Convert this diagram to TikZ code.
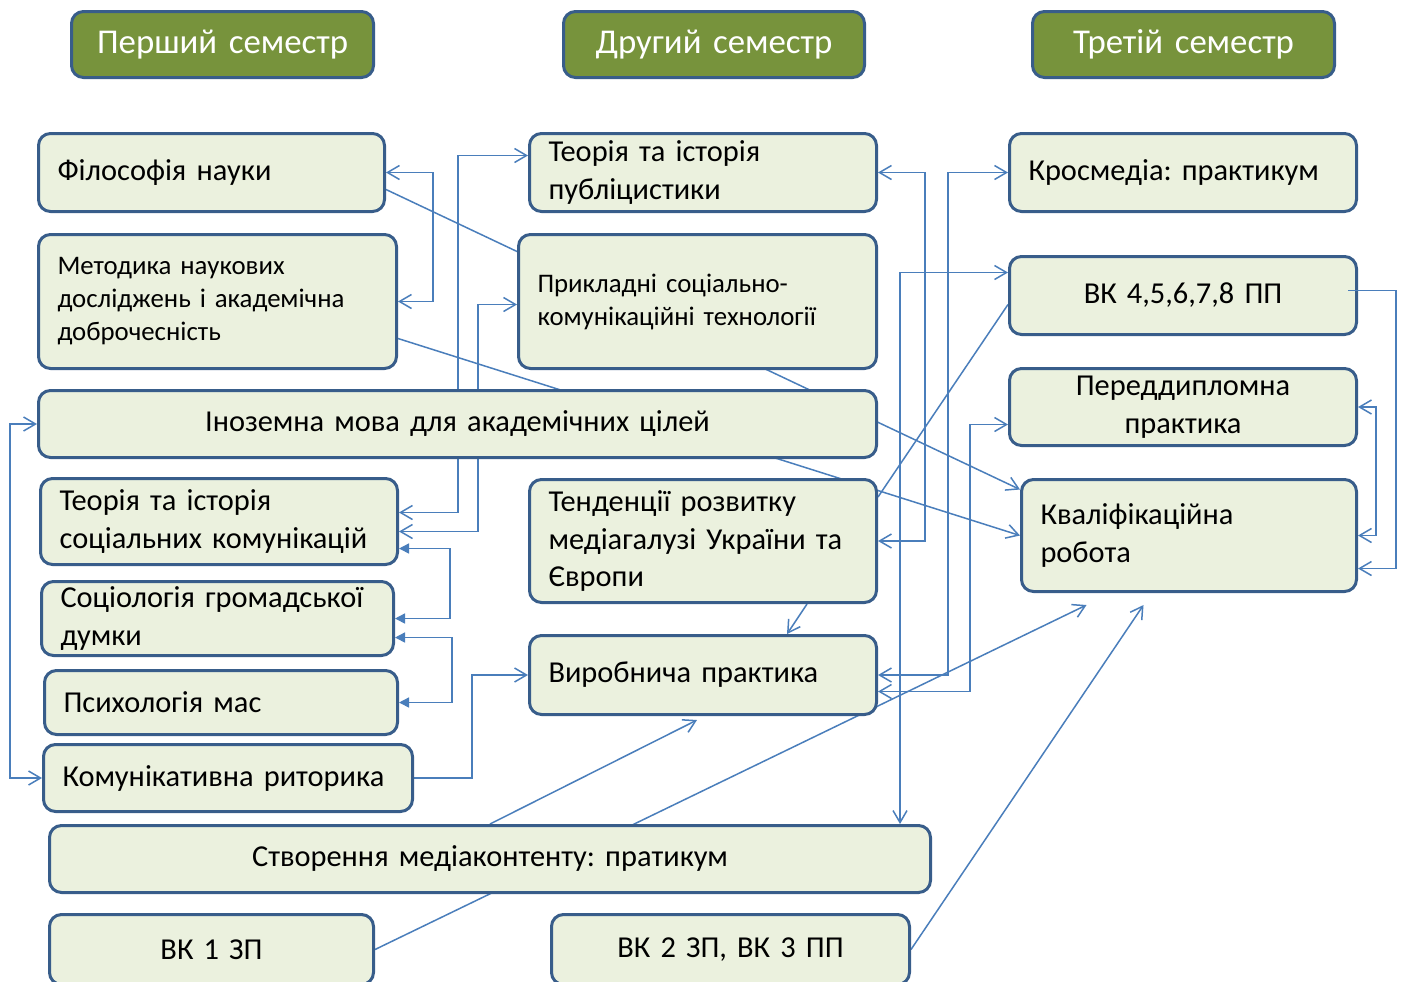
\documentclass[tikz,border=0pt]{standalone}
\usepackage{fontspec}
\setmainfont{Carlito}
\frenchspacing
\usetikzlibrary{arrows.meta,positioning,backgrounds}
\definecolor{boxfill}{HTML}{EBF1DE}
\definecolor{boxline}{HTML}{385D8A}
\definecolor{headfill}{HTML}{77933C}
\definecolor{linkblue}{HTML}{4A7EBB}

\begin{document}
\begin{tikzpicture}[x=0.5pt, y=-0.5pt, >={Straight Barb[length=6pt,width=7pt]},
    box/.style={draw=boxline, line width=1.5pt, fill=boxfill, rounded corners=6pt, anchor=north west,
      inner xsep=9.5pt, inner ysep=0pt, align=left, font=\fontsize{15.2}{18.75}\selectfont},
    small/.style={font=\fontsize{13.4}{16.5}\selectfont},
    head/.style={box, fill=headfill, text=white, align=center, font=\fontsize{17.4}{20}\selectfont},
    link/.style={draw=linkblue, line width=0.75pt},
    flink/.style={link, {Triangle[length=5pt,width=5pt]}-{Triangle[length=5pt,width=5pt]}}]
    \useasboundingbox (0,0) rectangle (1402,981);

    % semesters
    \node[head, text width=132pt, minimum height=33pt] (sem1) at (70,10) {Перший семестр};
    \node[head, text width=131.5pt, minimum height=33pt] (sem2) at (562,10) {Другий семестр};
    \node[head, text width=132pt, minimum height=33pt] (sem3) at (1031,10) {Третій семестр};

    % first column
    \node[box, text width=154pt, minimum height=39pt] (fil) at (37,132) {Філософія науки};
    \node[box, small, text width=160pt, minimum height=67pt] (metod) at (37,233) {Методика наукових\\досліджень і академічна\\доброчесність};
    \node[box, align=center, text width=400pt, minimum height=33.5pt] (inozem) at (37,389) {Іноземна мова для академічних цілей};
    \node[box, text width=159.5pt, minimum height=43pt] (tisk) at (39,477) {Теорія та історія\\соціальних комунікацій};
    \node[box, text width=157pt, minimum height=37pt] (sociol) at (40,580) {Соціологія громадської\\думки};
    \node[box, text width=157.5pt, minimum height=32pt] (psych) at (43,669) {Психологія мас};
    \node[box, text width=165.5pt, minimum height=33.5pt] (ritor) at (42,743) {Комунікативна риторика};
    \node[box, align=center, text width=421.5pt, minimum height=33.5pt] (media) at (48,824) {Створення медіаконтенту: пратикум};
    \node[box, align=center, text width=143pt, minimum height=35pt] (vk1) at (48,913) {ВК 1 ЗП};

    % second column
    \node[box, text width=154.5pt, minimum height=39pt] (tip) at (528,132) {Теорія та історія\\публіцистики};
    \node[box, small, text width=160pt, minimum height=67pt] (pskt) at (517,233) {Прикладні соціально-\\комунікаційні технології};
    \node[box, text width=154.5pt, minimum height=61.5pt] (tend) at (528,478) {Тенденції розвитку\\медіагалузі України та\\Європи};
    \node[box, text width=154.5pt, minimum height=39.5pt] (vyrob) at (528,634) {Виробнича практика};
    \node[box, align=center, text width=160pt, minimum height=35pt] (vk2) at (550,913) {ВК 2 ЗП, ВК 3 ПП};

    % third column
    \node[box, text width=154.5pt, minimum height=39pt] (kros) at (1008,132) {Кросмедіа: практикум};
    \node[box, align=center, text width=154.5pt, minimum height=39pt] (vk4) at (1008,255) {ВК 4,5,6,7,8 ПП};
    \node[box, align=center, text width=154.5pt, minimum height=38.5pt] (pered) at (1008,367) {Переддипломна\\практика};
    \node[box, text width=148.5pt, minimum height=56pt] (kval) at (1020,478) {Кваліфікаційна\\робота};

    % links behind the boxes
    \begin{scope}[on background layer]
      \fill[white] (0,0) rectangle (1402,981);
      \draw[link, <->] (fil.east) -- ++(47,0) |- (metod.east);
      \draw[link, <->] ([yshift=4.5pt]tisk.east) -- ++(59,0) |- ([yshift=8.5pt]tip.west);
      \draw[link, <->] ([yshift=-5pt]tisk.east) -- ++(79,0) |- ([yshift=-1.5pt]pskt.west);
      \draw[flink] ([yshift=-13.5pt]tisk.east) -- ++(51,0) |- (sociol.east);
      \draw[flink] ([yshift=-9.5pt]sociol.east) -- ++(57,0) |- (psych.east);
      \draw[link, ->] ([yshift=-8.5pt]fil.east) -- ([yshift=23pt]kval.west);
      \draw[link, ->] ([yshift=-18.5pt]metod.east) -- (kval.west);
      \draw[link, <->] (inozem.west) -- ++(-27,0) |- (ritor.west);
      \draw[link, ->] (ritor.east) -- ++(58,0) |- (vyrob.west);
      \draw[link, <->] (tip.east) -- ++(47,0) |- (tend.east);
      \draw[link, ->] ([xshift=52pt]tend.south) -- ([xshift=42pt]vyrob.north);
      \draw[link, ->] (media.north) -- ([xshift=-3pt,yshift=-2pt]vyrob.south);
      \draw[link, <->] (kros.west) -- ++(-60,0) |- (vyrob.east);
      \draw[link, <->] ([yshift=-8.75pt]pered.west) -- ++(-38,0) |- ([yshift=-8.25pt]vyrob.east);
      \draw[link, <->] ([yshift=11.5pt]vk4.west) -| ([xshift=-16pt]media.north east);
      \draw[link] ([yshift=-4.5pt]vk4.west) -- ([yshift=-9.5pt]tend.north east);
      \draw[link, <->] (pered.east) -- ++(18,0) |- (kval.east);
      \draw[link, ->] (vk1.east) -- ([xshift=-51.25pt,yshift=-6pt]kval.south);
      \draw[link, ->] (vk2.east) -- ([xshift=-22.75pt,yshift=-6pt]kval.south);
    \end{scope}
    \draw[link, ->] ([xshift=-5pt,yshift=2.5pt]vk4.east) -- ++(48,0) |- ([yshift=-16.5pt]kval.east);
\end{tikzpicture}
\end{document}
